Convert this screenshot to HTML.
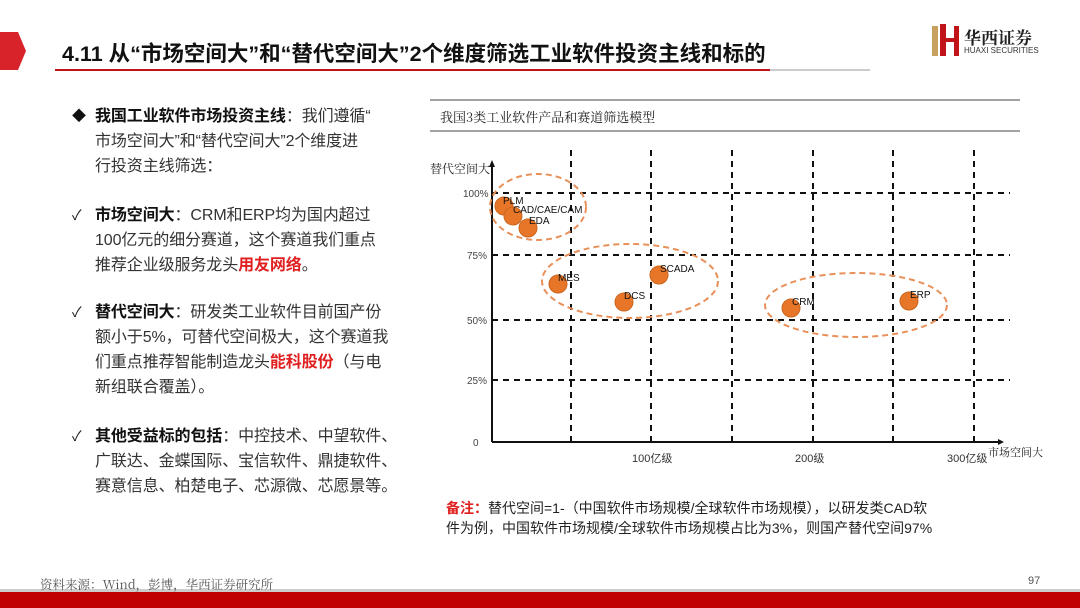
<!DOCTYPE html>
<html><head><meta charset="utf-8"><style>
body{margin:0;width:1080px;height:608px;position:relative;background:#fff;font-family:"Liberation Sans","Noto Sans CJK SC",sans-serif;overflow:hidden}
.t{position:absolute;white-space:nowrap}
.p{position:absolute;left:95px;font-size:16px;letter-spacing:-0.1px;line-height:25px;color:#333;white-space:nowrap}
.p b{color:#111}
.r{color:#e02020;font-weight:bold}
.mk{position:absolute;left:72px;font-size:14px;color:#111}
</style></head><body>
<svg width="1080" height="608" style="position:absolute;left:0;top:0">
<polygon points="0,32 18,32 26,51 18,70 0,70" fill="#d8232a"/>
<line x1="55" y1="70" x2="770" y2="70" stroke="#c0141a" stroke-width="2"/>
<line x1="770" y1="70" x2="870" y2="70" stroke="#ccc" stroke-width="2"/>
<rect x="932" y="26" width="6" height="30" fill="#c8a060"/>
<rect x="940" y="24" width="6" height="32" fill="#c0141a"/>
<rect x="940" y="38" width="18" height="4" fill="#c0141a"/>
<rect x="954" y="26" width="5" height="30" fill="#c0141a"/>
<line x1="430" y1="100" x2="1020" y2="100" stroke="#444" stroke-width="1"/>
<line x1="430" y1="131" x2="1020" y2="131" stroke="#444" stroke-width="1"/>
<g stroke="#111" stroke-width="2" stroke-dasharray="6,5">
<line x1="492" y1="193" x2="1010" y2="193"/>
<line x1="492" y1="255" x2="1010" y2="255"/>
<line x1="492" y1="320" x2="1010" y2="320"/>
<line x1="492" y1="380" x2="1010" y2="380"/>
<line x1="571" y1="150" x2="571" y2="442"/>
<line x1="651" y1="150" x2="651" y2="442"/>
<line x1="732" y1="150" x2="732" y2="442"/>
<line x1="813" y1="150" x2="813" y2="442"/>
<line x1="893" y1="150" x2="893" y2="442"/>
<line x1="974" y1="150" x2="974" y2="442"/>
</g>
<line x1="492" y1="442" x2="492" y2="165" stroke="#111" stroke-width="2"/>
<polygon points="489,167 495,167 492,160" fill="#111"/>
<line x1="492" y1="442" x2="1000" y2="442" stroke="#111" stroke-width="2"/>
<polygon points="998,439 998,445 1004,442" fill="#111"/>
<g fill="none" stroke="#e8905a" stroke-width="2" stroke-dasharray="6,4">
<ellipse cx="538" cy="207" rx="48" ry="33"/>
<ellipse cx="630" cy="281" rx="88" ry="37"/>
<ellipse cx="856" cy="305" rx="91" ry="32"/>
</g>
<g fill="#e87628" stroke="#c9661f" stroke-width="1">
<circle cx="504" cy="206" r="9"/><circle cx="513" cy="216" r="9"/><circle cx="528" cy="228" r="9"/>
<circle cx="558" cy="284" r="9"/><circle cx="624" cy="302" r="9"/><circle cx="659" cy="275" r="9"/>
<circle cx="791" cy="308" r="9"/><circle cx="909" cy="301" r="9"/>
</g>
<g font-family="Liberation Sans,sans-serif" font-size="10" fill="#111">
<text x="503" y="204">PLM</text><text x="513" y="213">CAD/CAE/CAM</text><text x="529" y="224">EDA</text>
<text x="558" y="281">MES</text><text x="624" y="299">DCS</text><text x="660" y="272">SCADA</text>
<text x="792" y="305">CRM</text><text x="910" y="298">ERP</text>
<g fill="#444"><text x="463" y="197">100%</text><text x="467" y="259">75%</text><text x="467" y="324">50%</text><text x="467" y="384">25%</text><text x="473" y="446">0</text></g>
</g>
<rect x="0" y="589" width="1080" height="3" fill="#ccc"/>
<rect x="0" y="592" width="1080" height="16" fill="#c00000"/>
</svg>
<div class="t" style="left:62px;top:37px;font-size:21.5px;font-weight:bold;color:#111">4.11 从“市场空间大”和“替代空间大”2个维度筛选工业软件投资主线和标的</div>
<div class="t" style="left:964px;top:24px;font-size:17px;font-weight:bold;color:#222;font-family:'Noto Serif CJK SC',serif">华西证券</div>
<div class="t" style="left:964px;top:46px;font-size:8px;color:#333">HUAXI SECURITIES</div>
<div class="t" style="left:440px;top:107px;font-size:13px;color:#222;font-family:'Noto Serif CJK SC',serif">我国3类工业软件产品和赛道筛选模型</div>
<div class="t" style="left:430px;top:160px;font-size:12px;color:#222;font-family:'Noto Serif CJK SC',serif">替代空间大</div>
<div class="t" style="left:988px;top:444px;font-size:11px;color:#222;font-family:'Noto Serif CJK SC',serif">市场空间大</div>
<div class="t" style="left:632px;top:450px;font-size:11px;color:#333">100亿级</div>
<div class="t" style="left:795px;top:450px;font-size:11px;color:#333">200级</div>
<div class="t" style="left:947px;top:450px;font-size:11px;color:#333">300亿级</div>
<div class="mk" style="top:106px">◆</div>
<div class="p" style="top:104px"><b>我国工业软件市场投资主线</b>：我们遵循“<br>市场空间大”和“替代空间大”2个维度进<br>行投资主线筛选：</div>
<div class="mk" style="top:205px">✓</div>
<div class="p" style="top:203px"><b>市场空间大</b>：CRM和ERP均为国内超过<br>100亿元的细分赛道，这个赛道我们重点<br>推荐企业级服务龙头<span class="r">用友网络</span>。</div>
<div class="mk" style="top:302px">✓</div>
<div class="p" style="top:300px"><b>替代空间大</b>：研发类工业软件目前国产份<br>额小于5%，可替代空间极大，这个赛道我<br>们重点推荐智能制造龙头<span class="r">能科股份</span>（与电<br>新组联合覆盖）。</div>
<div class="mk" style="top:426px">✓</div>
<div class="p" style="top:424px"><b>其他受益标的包括</b>：中控技术、中望软件、<br>广联达、金蝶国际、宝信软件、鼎捷软件、<br>赛意信息、柏楚电子、芯源微、芯愿景等。</div>
<div class="t" style="left:446px;top:498px;font-size:14px;line-height:20px;color:#222"><span class="r">备注：</span>替代空间=1-（中国软件市场规模/全球软件市场规模），以研发类CAD软<br>件为例，中国软件市场规模/全球软件市场规模占比为3%，则国产替代空间97%</div>
<div class="t" style="left:40px;top:575px;font-size:12.5px;color:#555;font-family:'Noto Serif CJK SC',serif">资料来源：Wind，彭博，华西证券研究所</div>
<div class="t" style="left:1028px;top:575px;font-size:11px;color:#555">97</div>
</body></html>
